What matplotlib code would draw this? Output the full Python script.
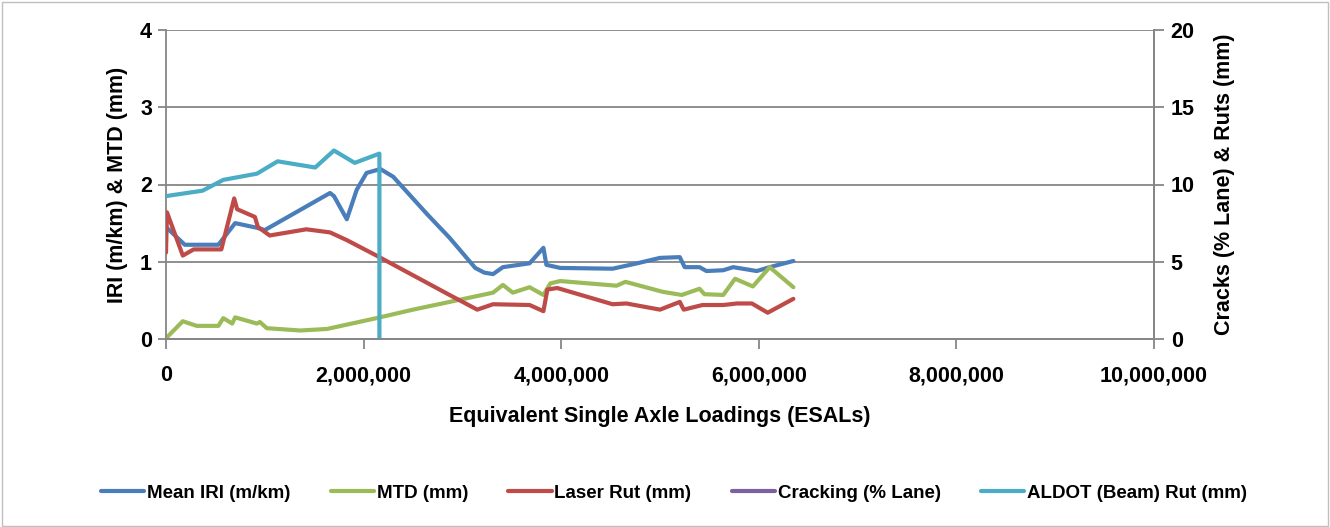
import matplotlib
matplotlib.use("Agg")
import matplotlib.pyplot as plt
from matplotlib.patches import Rectangle

# ---- data ----
iri_x = [0, 0.19e6, 0.53e6, 0.70e6, 0.92e6, 1.0e6, 1.66e6, 1.70e6, 1.83e6, 1.93e6, 2.03e6, 2.17e6,
         2.30e6, 2.64e6, 2.87e6, 3.13e6, 3.22e6,
         3.31e6, 3.41e6, 3.68e6, 3.82e6, 3.85e6, 3.99e6, 4.52e6, 4.77e6, 5.0e6, 5.2e6, 5.25e6,
         5.40e6, 5.47e6, 5.64e6, 5.74e6, 5.98e6, 6.11e6, 6.35e6]
iri_y = [1.45, 1.22, 1.22, 1.50, 1.44, 1.41, 1.89, 1.85, 1.55, 1.93, 2.15, 2.20,
         2.10, 1.62, 1.31, 0.92, 0.86,
         0.84, 0.93, 0.98, 1.18, 0.96, 0.92, 0.91, 0.98, 1.05, 1.06, 0.93,
         0.93, 0.88, 0.89, 0.93, 0.88, 0.93, 1.01]

mtd_x = [0, 0.17e6, 0.31e6, 0.53e6, 0.58e6, 0.67e6, 0.70e6, 0.92e6, 0.95e6, 1.02e6, 1.36e6, 1.63e6,
         2.13e6, 2.50e6, 2.87e6, 3.31e6, 3.41e6, 3.51e6, 3.68e6, 3.82e6, 3.89e6, 3.99e6, 4.56e6, 4.65e6,
         5.03e6, 5.22e6, 5.40e6, 5.45e6, 5.64e6, 5.76e6, 5.94e6, 6.11e6, 6.35e6]
mtd_y = [0.01, 0.23, 0.17, 0.17, 0.27, 0.20, 0.28, 0.20, 0.22, 0.14, 0.11, 0.13,
         0.27, 0.38, 0.48, 0.60, 0.70, 0.60, 0.67, 0.57, 0.72, 0.75, 0.69, 0.74,
         0.61, 0.57, 0.65, 0.58, 0.57, 0.78, 0.68, 0.93, 0.67]

rut_x = [0, 0.01e6, 0.17e6, 0.28e6, 0.56e6, 0.69e6, 0.72e6, 0.90e6, 0.93e6, 1.05e6, 1.42e6, 1.66e6,
         1.83e6, 2.13e6, 2.87e6, 3.15e6, 3.31e6, 3.68e6, 3.82e6, 3.86e6, 3.96e6, 4.52e6, 4.66e6, 5.0e6,
         5.2e6, 5.24e6, 5.43e6, 5.64e6, 5.78e6, 5.93e6, 6.09e6, 6.35e6]
rut_y = [5.6, 8.2, 5.4, 5.8, 5.8, 9.1, 8.4, 7.9, 7.25, 6.7, 7.1, 6.9,
         6.4, 5.4, 2.85, 1.9, 2.25, 2.2, 1.8, 3.2, 3.3, 2.25, 2.3, 1.9,
         2.4, 1.9, 2.2, 2.2, 2.3, 2.3, 1.7, 2.6]

crack_x = []
crack_y = []

aldot_x = [0, 0.37e6, 0.58e6, 0.92e6, 1.13e6, 1.51e6, 1.70e6, 1.91e6, 2.16e6, 2.16e6]
aldot_y = [9.25, 9.6, 10.3, 10.7, 11.5, 11.1, 12.2, 11.4, 12.0, 0.0]

xticks = [0, 2e6, 4e6, 6e6, 8e6, 10e6]
xtick_labels = ["0", "2,000,000", "4,000,000", "6,000,000", "8,000,000", "10,000,000"]
left_ticks = [0, 1, 2, 3, 4]
right_ticks = [0, 5, 10, 15, 20]

# ---- style ----
plt.rcParams['font.family'] = ['Liberation Sans', 'DejaVu Sans']
plt.rcParams['font.weight'] = 'bold'
GRAY = '#868686'
C_IRI, C_MTD, C_RUT, C_CRK, C_ALD = '#4A7EBB', '#9BBB59', '#BE4B48', '#7D60A0', '#4BACC6'

fig = plt.figure(figsize=(13.3, 5.27), dpi=100)
fig.patches.append(Rectangle((0.0015, 0.002), 0.997, 0.994, transform=fig.transFigure,
                             fill=False, edgecolor='#BFBFBF', lw=1.0))
ax = fig.add_axes([166/1330, 1-339/527, (1154-166)/1330, (339-30)/527])
ax2 = ax.twinx()

lw = 3.0
kw = dict(lw=lw, solid_joinstyle='round', solid_capstyle='round')
l1, = ax.plot(iri_x, iri_y, color=C_IRI, label='Mean IRI (m/km)', **kw)
l2, = ax.plot(mtd_x, mtd_y, color=C_MTD, label='MTD (mm)', **kw)
l3, = ax2.plot(rut_x, rut_y, color=C_RUT, label='Laser Rut (mm)', **kw)
l4, = ax2.plot(crack_x, crack_y, color=C_CRK, label='Cracking (% Lane)', **kw)
l5, = ax2.plot(aldot_x, aldot_y, color=C_ALD, label='ALDOT (Beam) Rut (mm)', **kw)

ax.set_xlim(0, 10e6)
ax.set_ylim(0, 4)
ax2.set_ylim(0, 20)
ax.set_xticks(xticks)
ax.set_xticklabels(xtick_labels)
ax.set_yticks(left_ticks)
ax2.set_yticks(right_ticks)
ax.yaxis.grid(True, color=GRAY, lw=1.3)
ax.set_axisbelow(True)

for a in (ax, ax2):
    for s in a.spines.values():
        s.set_color(GRAY)
        s.set_linewidth(1.3)
    a.spines['top'].set_visible(False)
ax2.spines['left'].set_visible(False)

fs = 15.5
ax.tick_params(axis='x', colors=GRAY, labelcolor='black', length=7, width=1.3, labelsize=fs, pad=12)
ax.tick_params(axis='y', colors=GRAY, labelcolor='black', length=6, width=1.3, labelsize=fs, pad=4)
ax2.tick_params(axis='y', colors=GRAY, labelcolor='black', length=7, width=1.3, labelsize=fs, pad=5)
for lab in ax.get_xticklabels() + ax.get_yticklabels() + ax2.get_yticklabels():
    lab.set_fontweight('bold')

ax.set_xlabel('Equivalent Single Axle Loadings (ESALs)', fontsize=fs, fontweight='bold', labelpad=14)
ax.set_ylabel('IRI (m/km) & MTD (mm)', fontsize=fs, fontweight='bold', labelpad=9)
ax2.set_ylabel('Cracks (% Lane) & Ruts (mm)', fontsize=fs, fontweight='bold', labelpad=14)

fig.legend(handles=[l1, l2, l3, l4, l5], loc='center', bbox_to_anchor=(674/1330, 1-493/527),
           ncol=5, frameon=False, prop={'weight': 'bold', 'size': 13.5},
           handlelength=2.3, handletextpad=0.15, columnspacing=2.15)

fig.savefig('out.png', dpi=100)
